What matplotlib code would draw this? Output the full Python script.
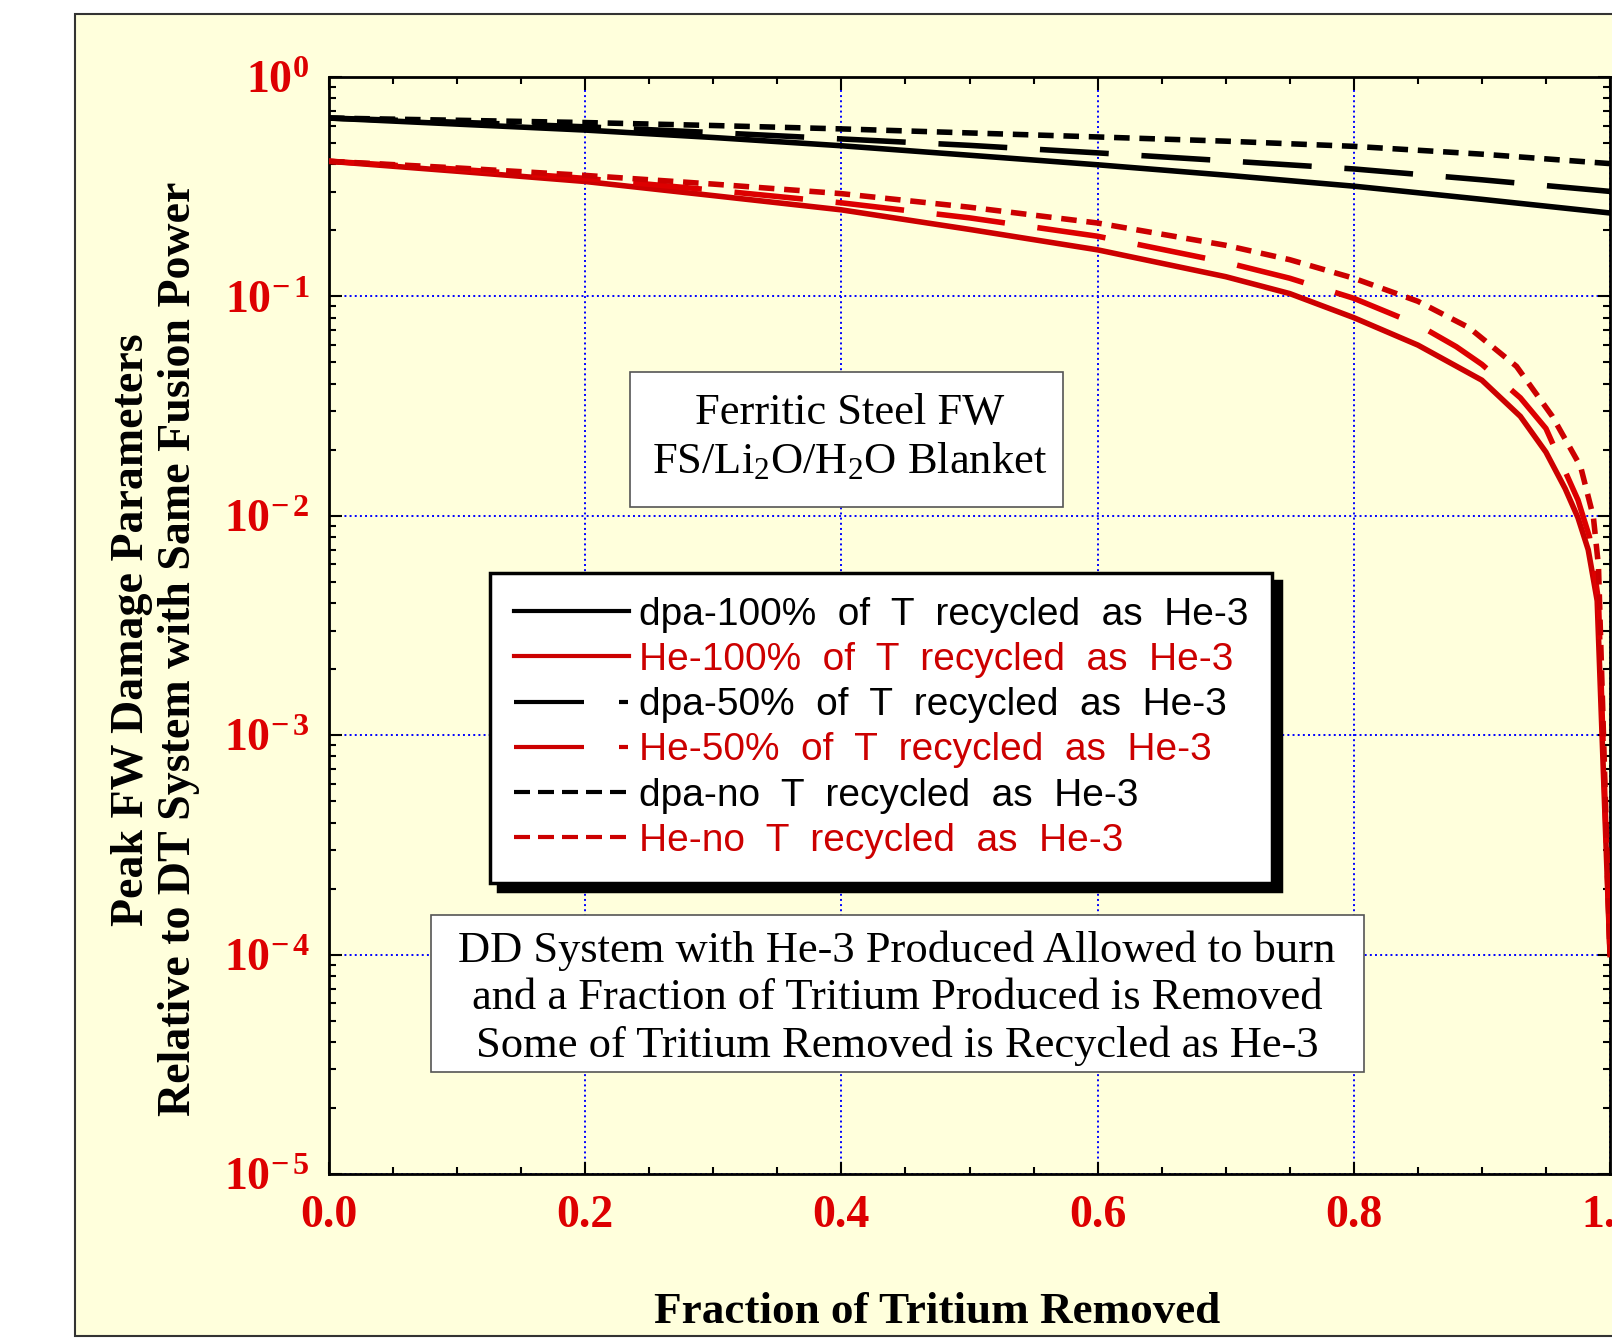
import numpy as np
import matplotlib
matplotlib.use('Agg')
import matplotlib.pyplot as plt
from matplotlib.lines import Line2D
from matplotlib.patches import Rectangle
from matplotlib.ticker import LogLocator, NullFormatter, MultipleLocator

plt.rcParams.update({
    'font.family': 'Liberation Serif',
    'mathtext.fontset': 'custom',
    'mathtext.rm': 'Liberation Serif',
    'mathtext.it': 'Liberation Serif:italic',
    'mathtext.bf': 'Liberation Serif:bold',
})

# --- data: peak FW damage relative to DT system -------------------------
# dpa curves
frac_dpa = [0.0, 0.1, 0.2, 0.3, 0.4, 0.5, 0.6, 0.7, 0.8, 0.9, 1.0]
dpa_100 = [0.650, 0.610, 0.573, 0.530, 0.486, 0.440, 0.398, 0.357, 0.318, 0.277, 0.240]
dpa_50 = [0.650, 0.622, 0.593, 0.558, 0.522, 0.488, 0.451, 0.415, 0.381, 0.340, 0.301]
dpa_no = [0.650, 0.635, 0.620, 0.601, 0.580, 0.556, 0.533, 0.510, 0.483, 0.445, 0.403]

# helium production curves
frac_he_100 = [0.0, 0.1, 0.2, 0.3, 0.4, 0.5, 0.6, 0.7, 0.75, 0.8, 0.85, 0.9,
               0.93, 0.95, 0.965, 0.975, 0.983, 0.99, 1.0]
he_100 = [0.413, 0.372, 0.334, 0.288, 0.248, 0.202, 0.163, 0.123, 0.103, 0.080,
          0.060, 0.0415, 0.0284, 0.0195, 0.0133, 0.0098, 0.0070, 0.0041, 0.0001]

frac_he_50 = [0.0, 0.1, 0.2, 0.3, 0.4, 0.5, 0.6, 0.7, 0.75, 0.8, 0.85, 0.88,
              0.9, 0.93, 0.95, 0.975, 0.984, 0.991, 1.0]
he_50 = [0.413, 0.380, 0.345, 0.305, 0.267, 0.228, 0.188, 0.143, 0.121, 0.098,
         0.0743, 0.059, 0.049, 0.0345, 0.025, 0.0118, 0.0080, 0.0041, 0.0001]

frac_he_no = [0.0, 0.1, 0.2, 0.3, 0.4, 0.5, 0.6, 0.7, 0.75, 0.8, 0.85, 0.89,
              0.927, 0.955, 0.977, 0.987, 0.991, 1.0]
he_no = [0.413, 0.385, 0.356, 0.325, 0.294, 0.255, 0.216, 0.171, 0.147, 0.121,
         0.095, 0.072, 0.048, 0.0284, 0.0168, 0.0099, 0.0059, 0.0001]

legend_labels = [
    'dpa-100%  of  T  recycled  as  He-3',
    'He-100%  of  T  recycled  as  He-3',
    'dpa-50%  of  T  recycled  as  He-3',
    'He-50%  of  T  recycled  as  He-3',
    'dpa-no  T  recycled  as  He-3',
    'He-no  T  recycled  as  He-3',
]
xticks = [0.0, 0.2, 0.4, 0.6, 0.8, 1.0]
xtick_labels = ['0.0', '0.2', '0.4', '0.6', '0.8', '1.0']
ytick_exps = [-5, -4, -3, -2, -1, 0]

box1_lines = ['Ferritic Steel FW', r'FS/Li$_{2}$O/H$_{2}$O Blanket']
box2_lines = ['DD System with He-3 Produced Allowed to burn',
              'and a Fraction of Tritium Produced is Removed',
              'Some of Tritium Removed is Recycled as He-3']

# --- style ------------------------------------------------------------------
BG = '#FFFFDC'
RED = '#CC0000'
RED2 = '#DD0000'
TICK_RED = '#DD0000'
LW = 4
LONG = (12.4, 5.9)
SHORT = (2.8, 1.76)

W, H = 1612, 1342
fig = plt.figure(figsize=(W / 100, H / 100), dpi=100, facecolor='white')

# yellow outer panel
fig.add_artist(Rectangle((75 / W, 1 - 1336 / H), 1.0, (1336 - 14) / H,
                         transform=fig.transFigure, facecolor=BG,
                         edgecolor='#333333', lw=1.5, zorder=0))

ax = fig.add_axes([329 / W, 1 - 1174 / H, 1281 / W, 1097 / H])
ax.set_facecolor(BG)
ax.set_yscale('log')
ax.set_xlim(0, 1)
ax.set_ylim(1e-5, 1)

ax.plot(frac_dpa, dpa_100, color='black', lw=LW, zorder=5)
ax.plot(frac_dpa, dpa_50, color='black', lw=LW, dashes=LONG, dash_capstyle='butt', zorder=5)
ax.plot(frac_dpa, dpa_no, color='black', lw=LW, dashes=SHORT, dash_capstyle='butt', zorder=5)
ax.plot(frac_he_100, he_100, color=RED, lw=LW, zorder=6)
ax.plot(frac_he_50, he_50, color=RED2, lw=LW, dashes=LONG, dash_capstyle='butt', zorder=6)
ax.plot(frac_he_no, he_no, color=RED, lw=LW, dashes=SHORT, dash_capstyle='butt', zorder=6)

# grid + ticks
ax.grid(which='major', color='#0000FF', ls=':', lw=1.4, zorder=1)
ax.set_axisbelow(True)
ax.set_xticks(xticks)
ax.set_xticklabels(xtick_labels)
ax.xaxis.set_minor_locator(MultipleLocator(0.05))
ax.set_yticks([10.0 ** e for e in ytick_exps])
ax.set_yticklabels([r'$\mathbf{10^{%s}}$' % (r'-\,%d' % -e if e < 0 else '%d' % e)
                    for e in ytick_exps])
ax.yaxis.set_minor_locator(LogLocator(base=10, subs=np.arange(2, 10), numticks=20))
ax.yaxis.set_minor_formatter(NullFormatter())
ax.tick_params(which='both', direction='in', top=True, right=True, width=1.5,
               colors='black', labelcolor=TICK_RED)
ax.tick_params(which='major', length=9)
ax.tick_params(which='minor', length=5)
ax.tick_params(axis='x', pad=15, labelsize=33)
ax.tick_params(axis='y', pad=14, labelsize=33)
for lab in ax.get_xticklabels():
    lab.set_fontweight('bold')
for sp in ax.spines.values():
    sp.set_linewidth(2)

# legend with proxy handles
leg_lw = 3
handles = [
    Line2D([], [], color='black', lw=leg_lw),
    Line2D([], [], color=RED, lw=leg_lw),
    Line2D([], [], color='black', lw=leg_lw, dashes=(16.8, 8.4, 2.16, 12), dash_capstyle='butt'),
    Line2D([], [], color=RED, lw=leg_lw, dashes=(16.8, 8.4, 2.16, 12), dash_capstyle='butt'),
    Line2D([], [], color='black', lw=leg_lw, dashes=(3.84, 1.92), dash_capstyle='butt'),
    Line2D([], [], color=RED, lw=leg_lw, dashes=(3.84, 1.92), dash_capstyle='butt'),
]
leg = ax.legend(handles, legend_labels, loc='upper left',
                bbox_to_anchor=(0.1257, 0.548), borderaxespad=0,
                prop={'family': 'Liberation Sans', 'size': 28},
                labelcolor=['black', RED, 'black', RED, 'black', RED],
                handlelength=2.95, handletextpad=0.25, borderpad=0.62,
                labelspacing=0.235, fancybox=False, edgecolor='black',
                facecolor='white', framealpha=1,
                shadow={'ox': 6, 'oy': -6, 'color': 'black', 'alpha': 1})
leg.get_frame().set_linewidth(2.5)
leg.set_zorder(10)

# annotation boxes (positions in axes fraction)
def px(x, y):
    return (x - 329) / 1281, (1174 - y) / 1097

x0, y0 = px(630, 507)
x1, y1 = px(1063, 372)
ax.add_patch(Rectangle((x0, y0), x1 - x0, y1 - y0, transform=ax.transAxes,
                       facecolor='white', edgecolor='#555555', lw=1.2, zorder=7))
for i, line in enumerate(box1_lines):
    tx, ty = px(849.5, 424 + 48.7 * i)
    ax.text(tx, ty, line, transform=ax.transAxes, ha='center', va='baseline',
            fontsize=32, zorder=8)

x0, y0 = px(431, 1072)
x1, y1 = px(1364, 915)
ax.add_patch(Rectangle((x0, y0), x1 - x0, y1 - y0, transform=ax.transAxes,
                       facecolor='white', edgecolor='#555555', lw=1.2, zorder=7))
for i, line in enumerate(box2_lines):
    tx, ty = px(897, 961.7 + 47.5 * i)
    ax.text(tx, ty, line, transform=ax.transAxes, ha='center', va='baseline',
            fontsize=32, zorder=8)

# axis titles
fig.text(937 / W, 1 - 1322.7 / H, 'Fraction of Tritium Removed', ha='center',
         va='baseline', fontsize=32.5, fontweight='bold')
fig.text(143.3 / W, 1 - 630 / H, 'Peak FW Damage Parameters', rotation=90,
         rotation_mode='anchor', ha='center', va='baseline', fontsize=33,
         fontweight='bold')
fig.text(190 / W, 1 - 649 / H, 'Relative to DT System with Same Fusion Power',
         rotation=90, rotation_mode='anchor', ha='center', va='baseline',
         fontsize=33, fontweight='bold')

fig.savefig('out.png', dpi=100, facecolor='white')
